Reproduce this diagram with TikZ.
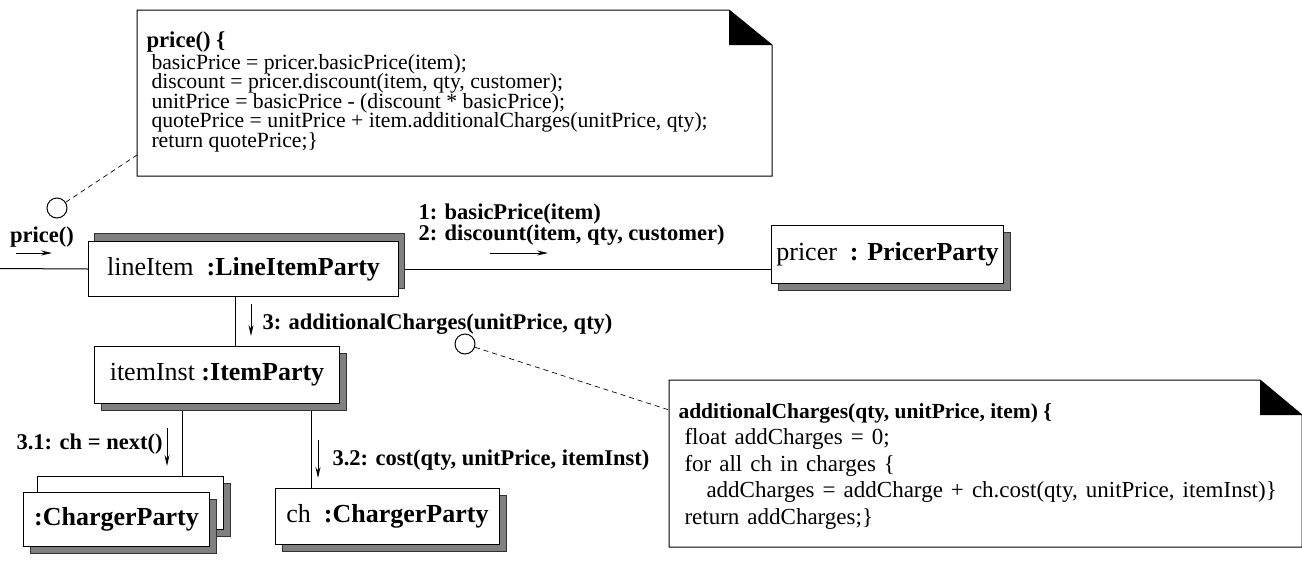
\documentclass[tikz,border=0pt]{standalone}
\usepackage{fontspec}
\setmainfont{Liberation Serif}
\usetikzlibrary{arrows.meta,shadows}

\newcommand{\notesize}{\fontsize{21.7}{19.5}\selectfont\lineskiplimit=-100pt}
\newcommand{\objsize}{\fontsize{26}{30}\selectfont}
\newcommand{\msgsize}{\fontsize{22.5}{21}\selectfont\bfseries\lineskiplimit=-100pt}
\newcommand{\widespaces}{\spaceskip=0.35em\relax}

\begin{document}
\begin{tikzpicture}[
    x=1pt, y=-1pt, line width=1pt,
    object/.style={draw, fill=white, rectangle, inner sep=0pt, anchor=north west, font=\objsize},
    boxshadow/.style={general shadow={fill=gray, draw=black!80, shadow xshift=7pt, shadow yshift=-7pt}},
    boxshadowup/.style={general shadow={fill=gray, draw=black!80, shadow xshift=6pt, shadow yshift=8pt}},
    msg/.style={font=\msgsize, inner sep=0pt},
    flow/.style={-{Stealth[length=11pt,width=5pt]}},
    ring/.style={circle, draw, minimum size=20pt, inner sep=0pt},
    link/.style={dash pattern=on 5pt off 4pt, line width=0.7pt},
    notebox/.style={rectangle, inner sep=0pt, anchor=north west},
    notetext/.style={font=\notesize, align=left, anchor=base west, inner sep=0pt}
]
    \useasboundingbox (0,0) rectangle (1302,560);

    % Note for price()
    \node[notebox, minimum width=634pt, minimum height=165pt] (note1) at (137,10) {};
    \draw (note1.north west) -- ([xshift=-43pt]note1.north east) -- ([yshift=-35pt]note1.north east)
        -- (note1.south east) -- (note1.south west) -- cycle;
    \fill ([xshift=-43pt]note1.north east) -- ([yshift=-35pt]note1.north east)
        -- ([xshift=-43pt,yshift=-35pt]note1.north east) -- cycle;
    \node[notetext] (code1) at (146,147) {{\fontsize{22.7}{19.5}\selectfont\bfseries price() \{}\\[2.5pt]
        \hspace*{5pt}basicPrice = pricer.basicPrice(item);\\
        \hspace*{5pt}discount = pricer.discount(item, qty, customer);\\
        \hspace*{5pt}unitPrice = basicPrice - (discount * basicPrice);\\
        \hspace*{5pt}quotePrice = unitPrice + item.additionalCharges(unitPrice, qty);\\
        \hspace*{5pt}return quotePrice;\}};

    % Note for additionalCharges()
    \node[notebox, minimum width=632pt, minimum height=166pt] (note2) at (669,380) {};
    \draw (note2.north west) -- ([xshift=-42pt]note2.north east) -- ([yshift=-35pt]note2.north east)
        -- (note2.south east) -- (note2.south west) -- cycle;
    \fill ([xshift=-42pt]note2.north east) -- ([yshift=-35pt]note2.north east)
        -- ([xshift=-42pt,yshift=-35pt]note2.north east) -- cycle;
    \node[notetext, font=\fontsize{23}{26.5}\selectfont] (code2) at (678,524) {{\fontsize{21.5}{26.5}\selectfont\bfseries additionalCharges(qty, unitPrice, item) \{}\\
        {\widespaces\hspace*{6pt}float addCharges = 0;}\\
        {\widespaces\hspace*{6pt}for all ch in charges \{}\\
        {\widespaces\hspace*{28pt}addCharges = addCharge + ch.cost(qty, unitPrice, itemInst)\}}\\
        {\widespaces\hspace*{6pt}return addCharges;\}}};

    % Objects
    \node[object, boxshadowup, minimum width=310pt, minimum height=55pt] (lineItem) at (88,241) {lineItem\enspace\textbf{:LineItemParty}};
    \node[object, boxshadow, minimum width=232pt, minimum height=58pt] (pricer) at (771,225) {pricer\enspace\textbf{: PricerParty}};
    \node[object, boxshadow, minimum width=245pt, minimum height=57pt] (itemInst) at (94,346) {itemInst \textbf{:ItemParty}};
    \node[object, boxshadow, minimum width=186pt, minimum height=53pt] (chBack) at (37,476) {};
    \node[object, boxshadow, minimum width=186pt, minimum height=54pt] (chFront) at (23,492) {\textbf{:ChargerParty}};
    \node[object, boxshadow, minimum width=224pt, minimum height=56pt] (ch) at (275,488) {ch\enspace\textbf{:ChargerParty}};

    % Links
    \coordinate (entry) at (0,268.5);
    \draw (entry) -- (lineItem.west);
    \draw ([xshift=6pt]lineItem.east) -- (lineItem.east -| pricer.west);
    \draw ([xshift=-8pt]lineItem.south) -- ([xshift=-8pt]lineItem.south |- itemInst.north);
    \draw ([xshift=-35pt,yshift=-7pt]itemInst.south) -- ([xshift=-35pt]itemInst.south |- chBack.north);
    \draw ([xshift=94pt,yshift=-7pt]itemInst.south) -- ([xshift=94pt]itemInst.south |- ch.north);

    % Note attachments
    \node[ring] (ring1) at (57,208) {};
    \draw[link] (ring1) -- ([yshift=21pt]note1.south west);
    \node[ring] (ring2) at (465,344) {};
    \draw[link] (ring2) -- ([yshift=-30pt]note2.north west);

    % Messages
    \node[msg, anchor=base] (msgPrice) at (42,242) {price()};
    \coordinate (priceTail) at (16,253);
    \coordinate (priceHead) at (52,253);
    \draw[flow] (priceTail) -- (priceHead);

    \node[msg, anchor=base west, align=left] (msgPricer) at (418,240) {1: basicPrice(item)\\2: discount(item, qty, customer)};
    \coordinate (pricerTail) at (490,253);
    \coordinate (pricerHead) at (548,253);
    \draw[flow] (pricerTail) -- (pricerHead);

    \node[msg, anchor=base west] (msgCharges) at (262,329) {3: additionalCharges(unitPrice, qty)};
    \coordinate (chargesTail) at (251,304);
    \coordinate (chargesHead) at (251,336);
    \draw[flow] (chargesTail) -- (chargesHead);

    \node[msg, anchor=base east] (msgNext) at (163,449) {3.1: ch = next()};
    \coordinate (nextTail) at (167,428);
    \coordinate (nextHead) at (167,466);
    \draw[flow] (nextTail) -- (nextHead);

    \node[msg, anchor=base west] (msgCost) at (332,465) {3.2: cost(qty, unitPrice, itemInst)};
    \coordinate (costTail) at (318,440);
    \coordinate (costHead) at (318,478);
    \draw[flow] (costTail) -- (costHead);

\end{tikzpicture}
\end{document}
